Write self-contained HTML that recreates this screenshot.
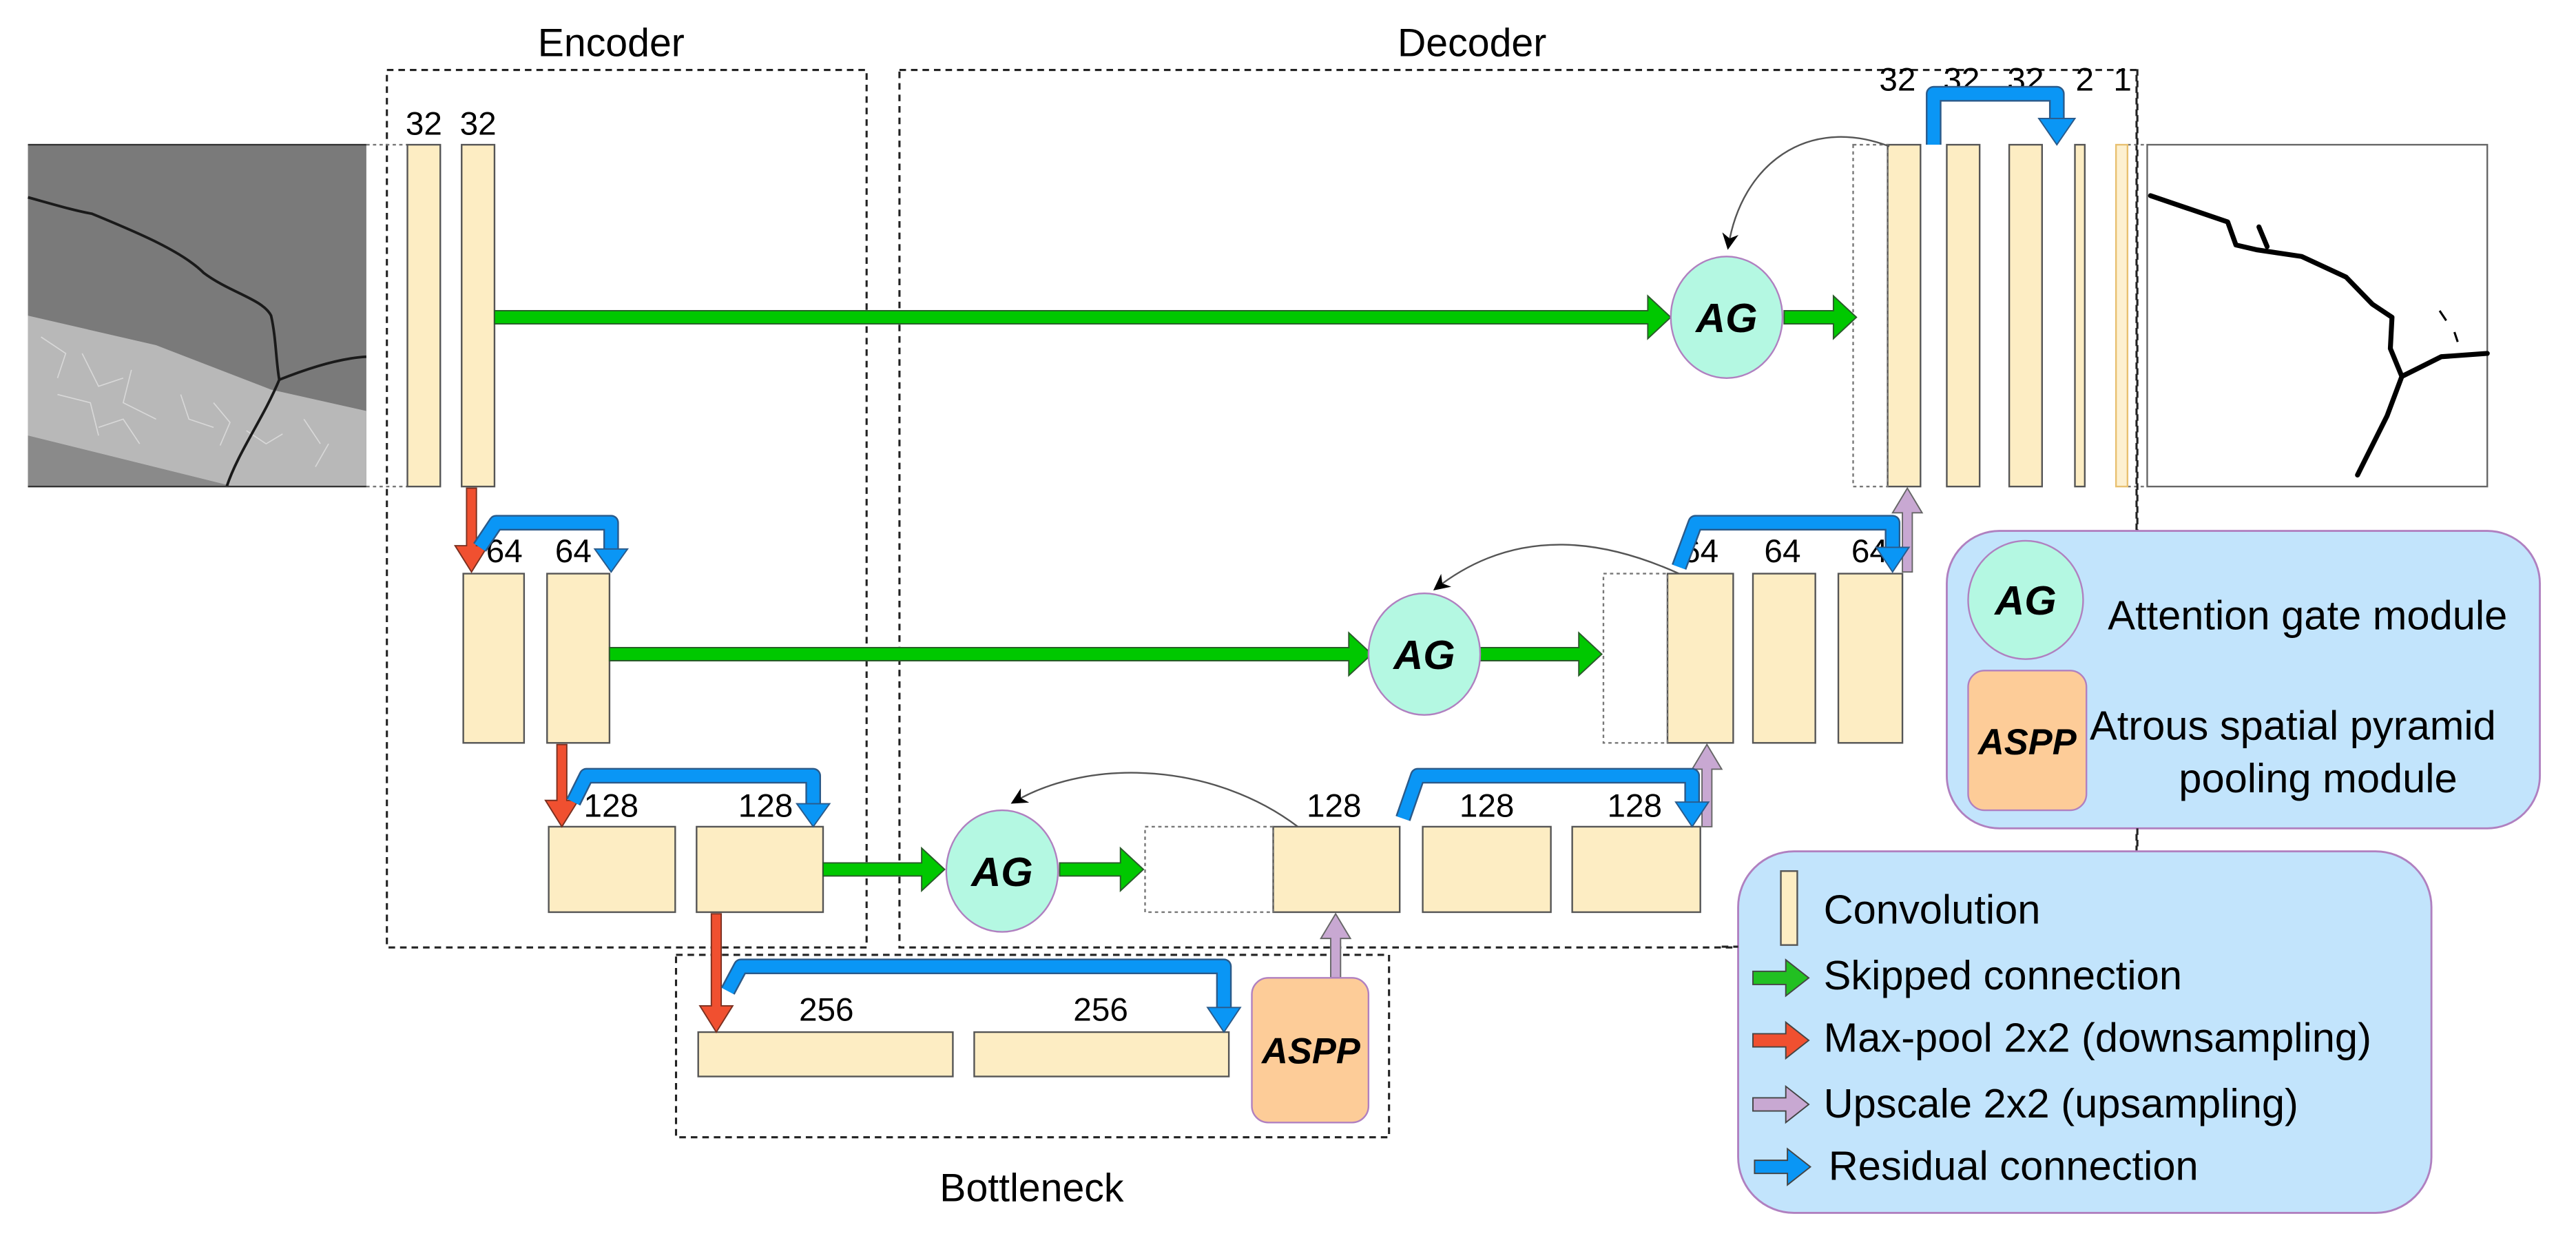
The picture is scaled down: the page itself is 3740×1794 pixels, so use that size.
<!DOCTYPE html>
<html><head><meta charset="utf-8"><style>
html,body{margin:0;padding:0;background:#fff;}
svg{display:block;}
text{font-family:"Liberation Sans",Arial,sans-serif;}
</style></head><body>
<svg width="3740" height="1794" viewBox="0 0 1568 752" xmlns="http://www.w3.org/2000/svg">
<defs>
<marker id="blk" markerWidth="10" markerHeight="10" refX="8" refY="5" orient="auto" markerUnits="userSpaceOnUse"><path d="M0,0 L10,5 L0,10 L3,5 z" fill="#000"/></marker>
</defs>
<rect width="1568" height="752" fill="#fff"/>

<!-- Region boxes -->
<g fill="none" stroke="#222" stroke-width="1.3" stroke-dasharray="4,3">
<rect x="235.5" y="42.5" width="292" height="534"/>
<rect x="547.5" y="42.5" width="753" height="534"/>
<rect x="411.5" y="581" width="434" height="111"/>
</g>
<text x="372" y="34" font-size="24" text-anchor="middle">Encoder</text>
<text x="896" y="34" font-size="24" text-anchor="middle">Decoder</text>
<text x="628" y="731" font-size="24" text-anchor="middle">Bottleneck</text>

<!-- Input image -->
<rect x="17" y="88" width="206" height="208" fill="#7a7a7a"/>
<polygon points="17,192 95,210 165,237 223,250 223,296 142,296 17,265" fill="#b8b8b8"/>
<polygon points="17,265 142,296 17,296" fill="#8a8a8a"/>
<g stroke="#e6e6e6" stroke-width="0.7" fill="none" opacity="0.7">
<path d="M25,205 l15,10 l-5,15 M50,215 l10,20 l15,-5 M80,225 l-5,20 l20,10 M110,240 l5,15 l15,5 M35,240 l20,5 l5,20 M60,260 l15,-5 l10,15 M130,245 l10,12 l-6,14 M150,262 l12,8 l10,-6 M185,255 l10,15 M200,270 l-8,14"/>
</g>
<g fill="none" stroke="#1a1a1a" stroke-width="1.6">
<path d="M17,120 C35,125 45,128 56,130 C80,140 110,152 124,166 C140,178 160,182 165,192 C168,205 168,220 170,231"/>
<path d="M170,231 C185,225 205,218 223,217"/>
<path d="M170,231 C160,255 145,275 138,296"/>
</g>
<line x1="17" y1="88" x2="223" y2="88" stroke="#333" stroke-width="1"/>
<line x1="17" y1="296" x2="223" y2="296" stroke="#333" stroke-width="1"/>
<g stroke="#777" stroke-width="1" stroke-dasharray="2,2"><line x1="223" y1="88" x2="248" y2="88"/><line x1="223" y1="296" x2="248" y2="296"/></g>

<!-- Output image -->
<rect x="1307" y="88" width="207" height="208" fill="#fff" stroke="#666" stroke-width="1"/>
<g fill="none" stroke="#000" stroke-width="3" stroke-linecap="round" stroke-linejoin="round">
<path d="M1309,119 L1334,127.5 L1356,135 L1361,149 L1374,152 L1401,156 L1428,168.5 L1444,185 L1456,193 L1455,212 L1462,229 L1486,217 L1514,215"/>
<path d="M1462,229 L1453,253 L1435,289"/>
<path d="M1375,138 L1380,150"/>
</g>
<path d="M1485,189 l4,6 M1494,202 l2,6" stroke="#000" stroke-width="1.3"/>
<g stroke="#777" stroke-width="1" stroke-dasharray="2,2"><line x1="1295" y1="88" x2="1307" y2="88"/><line x1="1295" y1="296" x2="1307" y2="296"/></g>

<!-- Conv bars -->
<g fill="#fdedc3" stroke="#555" stroke-width="1">
<rect x="248" y="88" width="20" height="208"/>
<rect x="281" y="88" width="20" height="208"/>
<rect x="282" y="349" width="37" height="103"/>
<rect x="333" y="349" width="38" height="103"/>
<rect x="334" y="503" width="77" height="52"/>
<rect x="424" y="503" width="77" height="52"/>
<rect x="425" y="628" width="155" height="27"/>
<rect x="593" y="628" width="155" height="27"/>
<rect x="775" y="503" width="77" height="52"/>
<rect x="866" y="503" width="78" height="52"/>
<rect x="957" y="503" width="78" height="52"/>
<rect x="1015" y="349" width="40" height="103"/>
<rect x="1067" y="349" width="38" height="103"/>
<rect x="1119" y="349" width="39" height="103"/>
<rect x="1149" y="88" width="20" height="208"/>
<rect x="1185" y="88" width="20" height="208"/>
<rect x="1223" y="88" width="20" height="208"/>
<rect x="1263" y="88" width="6" height="208"/>
</g>
<rect x="1288" y="88" width="7" height="208" fill="#fdf0d0" stroke="#e8c070" stroke-width="1"/>
<g fill="none" stroke="#777" stroke-width="1" stroke-dasharray="2,2">
<rect x="1128" y="88" width="21" height="208"/>
<rect x="976" y="349" width="39" height="103"/>
<rect x="697" y="503" width="78" height="52"/>
</g>
<line x1="1301" y1="42" x2="1301" y2="330" stroke="#222" stroke-width="1.3" stroke-dasharray="4,3"/>

<!-- numbers -->
<g font-size="20" text-anchor="middle">
<text x="258" y="82">32</text><text x="291" y="82">32</text>
<text x="307" y="342">64</text><text x="349" y="342">64</text>
<text x="372" y="497">128</text><text x="466" y="497">128</text>
<text x="503" y="621">256</text><text x="670" y="621">256</text>
<text x="812" y="497">128</text><text x="905" y="497">128</text><text x="995" y="497">128</text>
<text x="1035" y="342">64</text><text x="1085" y="342">64</text><text x="1138" y="342">64</text>
<text x="1155" y="55">32</text><text x="1194" y="55">32</text><text x="1233" y="55">32</text><text x="1269" y="55">2</text><text x="1292" y="55">1</text>
</g>

<!-- Green arrows -->
<g fill="#00c800" stroke="#2a5a2a" stroke-width="0.8">
<path d="M301,189 L1003,189 L1003,180 L1017,193 L1003,206 L1003,197 L301,197 z"/>
<path d="M1086,189 L1116,189 L1116,180 L1130,193 L1116,206 L1116,197 L1086,197 z"/>
<path d="M371,394 L821,394 L821,385 L835,398 L821,411 L821,402 L371,402 z"/>
<path d="M900,394 L961,394 L961,385 L975,398 L961,411 L961,402 L900,402 z"/>
<path d="M501,525 L561,525 L561,516 L575,529 L561,542 L561,533 L501,533 z"/>
<path d="M645,525 L682,525 L682,516 L696,529 L682,542 L682,533 L645,533 z"/>
</g>

<!-- Red arrows -->
<g fill="#f05030" stroke="#7a3020" stroke-width="0.8">
<path d="M284,297 L290,297 L290,332 L297,332 L287,348 L277,332 L284,332 z"/>
<path d="M339,453 L345,453 L345,487 L352,487 L342,503 L332,487 L339,487 z"/>
<path d="M433,556 L439,556 L439,612 L446,612 L436,628 L426,612 L433,612 z"/>
</g>

<!-- Purple arrows -->
<g fill="#c8a8d2" stroke="#666" stroke-width="0.8">
<path d="M1158,348 L1164,348 L1164,312 L1170,312 L1161,297 L1152,312 L1158,312 z"/>
<path d="M1036,503 L1042,503 L1042,468 L1048,468 L1039,453 L1030,468 L1036,468 z"/>
<path d="M810,595 L816,595 L816,571 L822,571 L813,556 L804,571 L810,571 z"/>
</g>

<!-- Blue residual arrows -->
<g fill="none" stroke-linejoin="round">
<g stroke="#2a5a8a" stroke-width="9.5">
<path d="M292,333 L302,318 L372,318 L372,335"/>
<path d="M349,488 L357,472 L495,472 L495,490"/>
<path d="M443,603 L451,588 L745,588 L745,614"/>
<path d="M854,498 L863,472 L1030,472 L1030,489"/>
<path d="M1022,345 L1032,318 L1152,318 L1152,334"/>
<path d="M1177,88 L1177,57 L1252,57 L1252,73"/>
</g>
<g stroke="#0a96f5" stroke-width="7.5">
<path d="M292,333 L302,318 L372,318 L372,335"/>
<path d="M349,488 L357,472 L495,472 L495,490"/>
<path d="M443,603 L451,588 L745,588 L745,614"/>
<path d="M854,498 L863,472 L1030,472 L1030,489"/>
<path d="M1022,345 L1032,318 L1152,318 L1152,334"/>
<path d="M1177,88 L1177,57 L1252,57 L1252,73"/>
</g>
</g>
<g fill="#0a96f5" stroke="#2a5a8a" stroke-width="0.8">
<polygon points="362,334 382,334 372,348"/>
<polygon points="485,489 505,489 495,503"/>
<polygon points="735,613 755,613 745,628"/>
<polygon points="1020,488 1040,488 1030,503"/>
<polygon points="1142,333 1162,333 1152,348"/>
<polygon points="1241,72 1263,72 1252,88"/>
</g>

<!-- curved attention arrows -->
<g fill="none" stroke="#555" stroke-width="1">
<path d="M1150,89 C1100,70 1060,100 1052,150" marker-end="url(#blk)"/>
<path d="M1022,349 C980,330 925,318 874,358" marker-end="url(#blk)"/>
<path d="M790,503 C740,465 665,460 617,488" marker-end="url(#blk)"/>
</g>

<!-- AG circles -->
<g fill="#b4f8e2" stroke="#b080c0" stroke-width="1">
<ellipse cx="1051" cy="193" rx="34" ry="37"/>
<ellipse cx="867" cy="398" rx="34" ry="37"/>
<ellipse cx="610" cy="530" rx="34" ry="37"/>
</g>
<g font-size="25" font-weight="bold" font-style="italic" text-anchor="middle">
<text x="1051" y="202">AG</text>
<text x="867" y="407">AG</text>
<text x="610" y="539">AG</text>
</g>

<!-- ASPP -->
<rect x="762" y="595" width="71" height="88" rx="10" fill="#fdcc98" stroke="#b080c0" stroke-width="1"/>
<text x="798" y="647" font-size="22" font-weight="bold" font-style="italic" text-anchor="middle">ASPP</text>

<!-- Legend 1 -->
<rect x="1185" y="323" width="361" height="181" rx="32" fill="#c2e4fc" stroke="#b080c0" stroke-width="1.2"/>
<ellipse cx="1233" cy="365" rx="35" ry="36" fill="#b4f8e2" stroke="#b080c0" stroke-width="1"/>
<text x="1233" y="374" font-size="25" font-weight="bold" font-style="italic" text-anchor="middle">AG</text>
<rect x="1198" y="408" width="72" height="85" rx="10" fill="#fdcc98" stroke="#b080c0" stroke-width="1"/>
<text x="1234" y="459" font-size="22" font-weight="bold" font-style="italic" text-anchor="middle">ASPP</text>
<g font-size="25">
<text x="1283" y="383">Attention gate module</text>
<text x="1272" y="450">Atrous spatial pyramid</text>
<text x="1411" y="482" text-anchor="middle">pooling module</text>
</g>
<line x1="1301" y1="504" x2="1301" y2="518" stroke="#222" stroke-width="1.3" stroke-dasharray="4,3"/>

<!-- Legend 2 -->
<rect x="1058" y="518" width="422" height="220" rx="34" fill="#c2e4fc" stroke="#b080c0" stroke-width="1.2"/>
<rect x="1084" y="530" width="10" height="45" fill="#fdedc3" stroke="#555" stroke-width="1"/>
<g stroke="#444" stroke-width="0.8">
<path d="M1067,591 L1087,591 L1087,584 L1101,595 L1087,606 L1087,599 L1067,599 z" fill="#22c022"/>
<path d="M1067,629 L1087,629 L1087,622 L1101,633 L1087,644 L1087,637 L1067,637 z" fill="#f05030"/>
<path d="M1067,668 L1087,668 L1087,661 L1101,672 L1087,683 L1087,676 L1067,676 z" fill="#c8a8d2"/>
<path d="M1068,706 L1088,706 L1088,699 L1102,710 L1088,721 L1088,714 L1068,714 z" fill="#0a96f5"/>
</g>
<g font-size="25">
<text x="1110" y="562">Convolution</text>
<text x="1110" y="602">Skipped connection</text>
<text x="1110" y="640">Max-pool 2x2 (downsampling)</text>
<text x="1110" y="680">Upscale 2x2 (upsampling)</text>
<text x="1113" y="718">Residual connection</text>
</g>
<line x1="1048" y1="576" x2="1058" y2="576" stroke="#222" stroke-width="1.3" stroke-dasharray="4,3"/>
</svg>
</body></html>
